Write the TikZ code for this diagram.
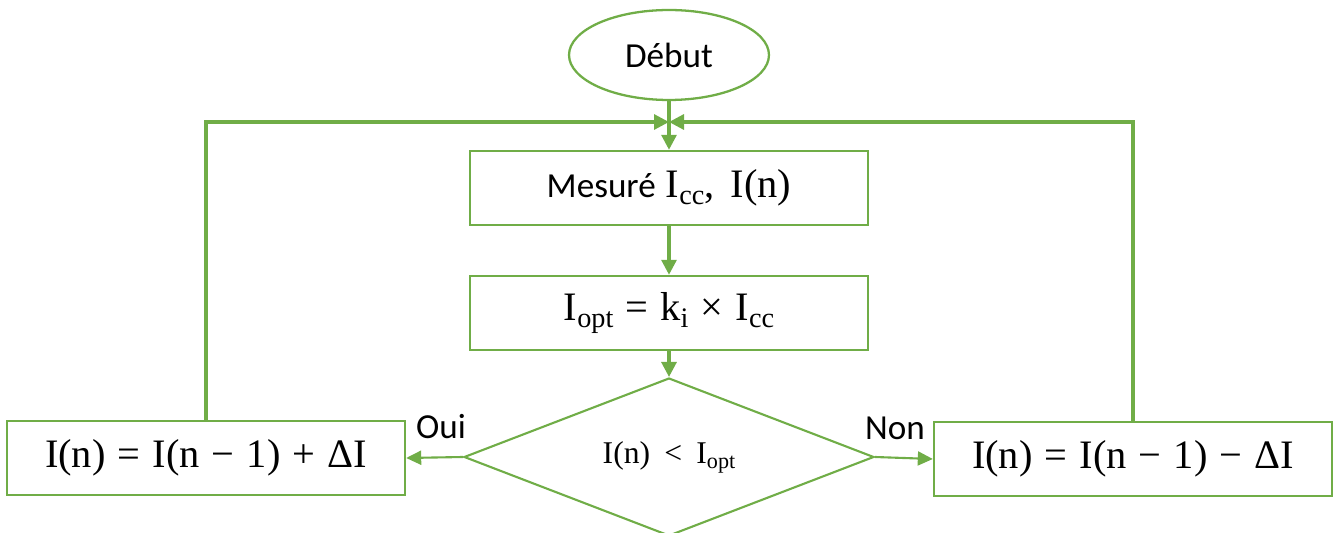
\documentclass[tikz,border=0pt]{standalone}
\usepackage{fontspec}
\usepackage{tikz}
\usetikzlibrary{positioning, arrows.meta, shapes.geometric}
\newfontfamily\calibri{Carlito}
\newfontfamily\formula{Liberation Serif}
\newcommand{\rel}[2][0.3em]{\hspace{#1}#2\hspace{#1}}
\newcommand{\low}[1]{\raisebox{-0.35ex}{\fontsize{0.7\dimexpr\csname f@size\endcsname pt\relax}{1em}\selectfont #1}}
\definecolor{flowGreen}{RGB}{112,173,71}

\begin{document}
\begin{tikzpicture}[
  x=0.02cm, y=-0.02cm,
  box/.style={draw=flowGreen, line width=1.4pt, minimum width=7.96cm, minimum height=1.48cm, font=\formula\fontsize{23}{27}\selectfont},
  startnode/.style={ellipse, draw=flowGreen, line width=1.3pt, minimum width=4cm, minimum height=1.8cm, font=\calibri\fontsize{20}{24}\selectfont},
  test/.style={diamond, aspect=2.6, draw=flowGreen, line width=1.2pt, inner sep=0pt, minimum width=8.2cm, minimum height=3.16cm, font=\formula\fontsize{18}{21}\selectfont},
  flow/.style={draw=flowGreen, line width=1.8pt, -{Triangle[length=0.3cm, width=0.3cm]}},
  branch/.style={draw=flowGreen, line width=1.2pt, -{Triangle[length=0.3cm, width=0.28cm]}},
  answer/.style={font=\calibri\fontsize{20}{24}\selectfont},
]
  \useasboundingbox (0,0) rectangle (1336,533);
  \node[startnode] (debut) at (669,55) {Début};
  \coordinate (merge) at (669,122);
  \node[box] (mesure) at (669,188) {{\calibri\fontsize{20}{24}\selectfont Mesuré} I\low{cc},\hspace{0.4em}I(n)};
  \node[box] (iopt) at (669,313) {I\low{opt}\rel{=}k\low{i}\rel{×}I\low{cc}};
  \node[test] (cmp) at (669,457) {I(n)\rel[0.45em]{<}I\low{opt}};
  \node[box] (plus) at (206,458) {I(n)\rel{=}I(n\rel{−}1)\rel{+}ΔI};
  \node[box] (minus) at (1133,459) {I(n)\rel{=}I(n\rel{−}1)\rel{−}ΔI};
  \node[answer] (oui) at (441,427) {Oui};
  \node[answer] (non) at (895,428) {Non};

  \draw[flow] (debut) -- (mesure);
  \draw[flow] (mesure) -- (iopt);
  \draw[flow] (iopt) -- (cmp);
  \draw[branch] (cmp.west) -- (plus.east);
  \draw[branch] (cmp.east) -- (minus.west);
  \draw[flow] (plus.north) |- (merge);
  \draw[flow] (minus.north) |- (merge);
\end{tikzpicture}
\end{document}
